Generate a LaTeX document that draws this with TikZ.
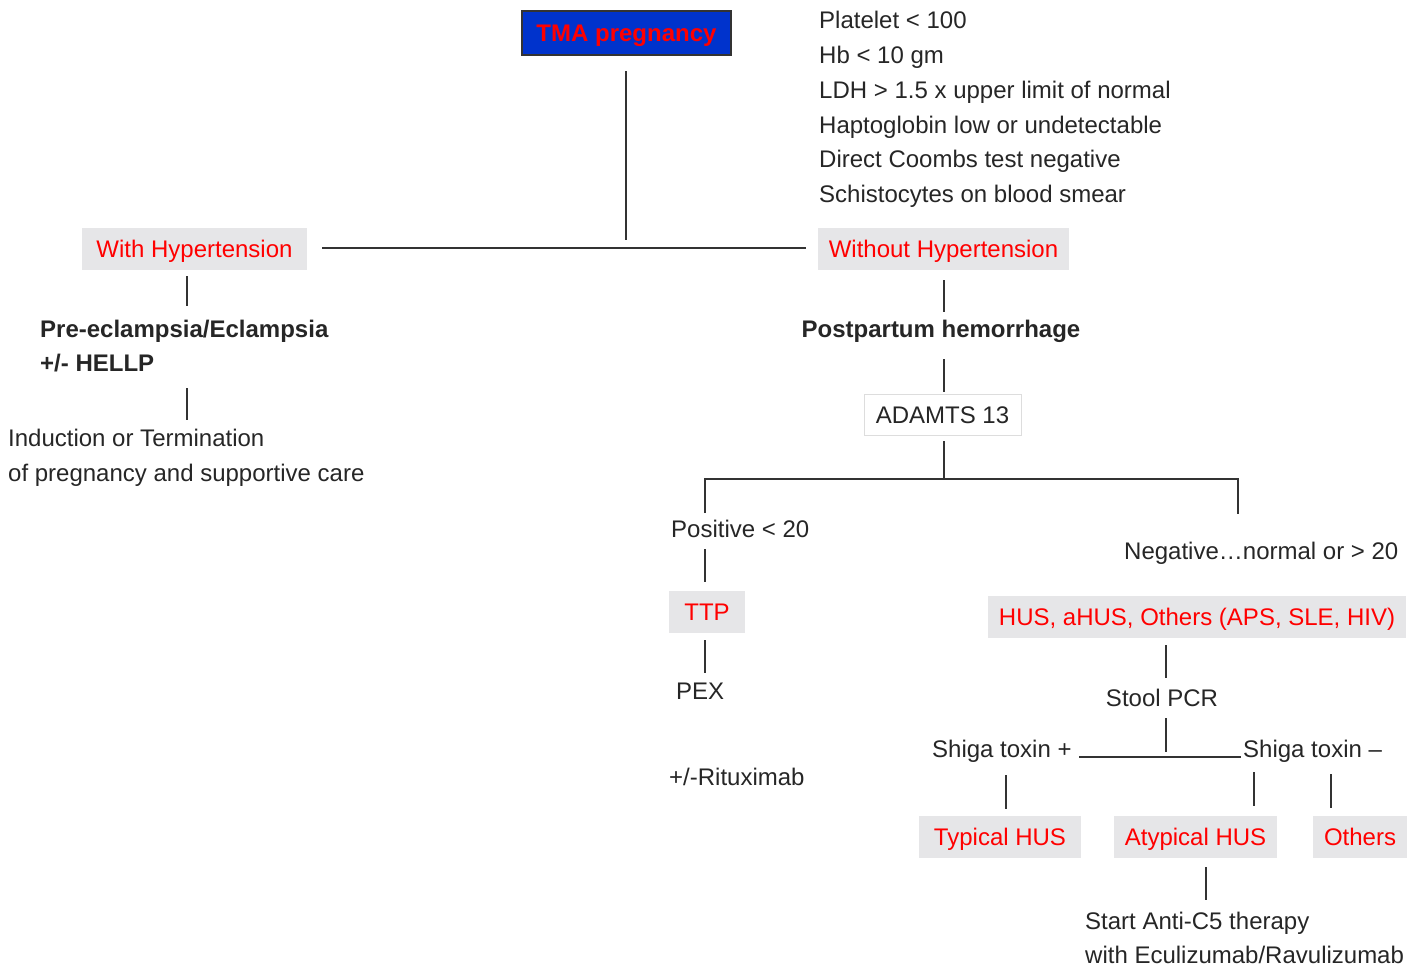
\documentclass[tikz,border=0pt]{standalone}
\usepackage{fontspec}
\setmainfont{Liberation Sans}
\definecolor{txt}{HTML}{262626}
\definecolor{boxgray}{HTML}{E6E6E8}
\definecolor{tmablue}{HTML}{0033CC}
\definecolor{linec}{HTML}{333333}
\definecolor{thinborder}{HTML}{DDDDDD}
\begin{document}
\begin{tikzpicture}[x=1pt,y=-1pt,
 every node/.style={font=\fontsize{24}{34.7}\selectfont, text=txt, inner sep=0pt},
 one/.style={text height=17.2pt, text depth=0pt},
 boldtxt/.style={font=\fontsize{24}{34.7}\selectfont\bfseries},
 redbox/.style={one, fill=boxgray, text=red, minimum height=42, anchor=center},
 plain/.style={anchor=west, align=left},
 conn/.style={draw=linec, line width=1.3pt}]
\useasboundingbox (0,0) rectangle (1415,966);

% nodes
\node[one, fill=tmablue, draw=linec, line width=1.5pt, text=red, boldtxt,
      minimum width=209, minimum height=44] (tma) at (626.5,33) {TMA pregnancy};
\node[plain] (crit) at (819,109.5) {Platelet < 100\\Hb < 10 gm\\LDH > 1.5 x upper limit of normal\\Haptoglobin low or undetectable\\Direct Coombs test negative\\Schistocytes on blood smear};
\node[redbox, minimum width=225] (withH) at (194.5,249) {With Hypertension};
\node[redbox, minimum width=251] (withoutH) at (943.5,249) {Without Hypertension};
\node[plain, boldtxt] (pre) at (40,346) {Pre-eclampsia/Eclampsia\\+/- HELLP};
\node[plain] (ind) at (8,458) {Induction or Termination\\of pregnancy and supportive care};
\node[one, boldtxt] (pph) at (941,329) {Postpartum hemorrhage};
\node[one, fill=white, draw=thinborder, line width=1pt, minimum width=157, minimum height=41] (adamts) at (942.5,414.5) {ADAMTS 13};
\node[one, plain] (pos) at (671,529) {Positive < 20};
\node[redbox, minimum width=76] (ttp) at (707,612) {TTP};
\node[one, plain] (pex) at (676,691) {PEX};
\node[one, plain] (rit) at (669,777) {+/-Rituximab};
\node[one, plain] (neg) at (1124,551) {Negative…normal or > 20};
\node[redbox, minimum width=418] (hus) at (1197,617) {HUS, aHUS, Others (APS, SLE, HIV)};
\node[one] (stool) at (1162,698) {Stool PCR};
\node[one, plain] (shp) at (932,749) {Shiga toxin +};
\node[one, plain] (shm) at (1243,749) {Shiga toxin –};
\node[redbox, minimum width=162] (typ) at (1000,837) {Typical HUS};
\node[redbox, minimum width=163] (atyp) at (1195.5,837) {Atypical HUS};
\node[redbox, minimum width=94] (oth) at (1360,837) {Others};
\node[plain] (start) at (1085,938) {Start Anti-C5 therapy\\with Eculizumab/Ravulizumab};

% connector end points
\coordinate (t1) at (626,71);   \coordinate (t2) at (626,240);
\coordinate (h1) at (322,248);  \coordinate (h2) at (806,248);
\coordinate (w1) at (187,276);  \coordinate (w2) at (187,306);
\coordinate (p1) at (187,388);  \coordinate (p2) at (187,420);
\coordinate (o1) at (944,280);  \coordinate (o2) at (944,312);
\coordinate (q1) at (944,359);  \coordinate (q2) at (944,392);
\coordinate (a1) at (944,441);  \coordinate (a2) at (944,479);
\coordinate (bl) at (705,479);  \coordinate (br) at (1238,479);
\coordinate (bl2) at (705,513); \coordinate (br2) at (1238,514);
\coordinate (s1) at (705,549);  \coordinate (s2) at (705,582);
\coordinate (u1) at (705,640);  \coordinate (u2) at (705,673);
\coordinate (v1) at (1166,645); \coordinate (v2) at (1166,678);
\coordinate (x1) at (1166,718); \coordinate (x2) at (1166,752);
\coordinate (g1) at (1079,757); \coordinate (g2) at (1241,757);
\coordinate (k1) at (1006,775); \coordinate (k2) at (1006,809);
\coordinate (m1) at (1254,772); \coordinate (m2) at (1254,806);
\coordinate (n1) at (1331,774); \coordinate (n2) at (1331,808);
\coordinate (z1) at (1206,867); \coordinate (z2) at (1206,900);

\draw[conn] (t1) -- (t2);
\draw[conn] (h1) -- (h2);
\draw[conn] (w1) -- (w2);
\draw[conn] (p1) -- (p2);
\draw[conn] (o1) -- (o2);
\draw[conn] (q1) -- (q2);
\draw[conn] (a1) -- (a2);
\draw[conn] (bl2) -- (bl) -- (br) -- (br2);
\draw[conn] (s1) -- (s2);
\draw[conn] (u1) -- (u2);
\draw[conn] (v1) -- (v2);
\draw[conn] (x1) -- (x2);
\draw[conn] (g1) -- (g2);
\draw[conn] (k1) -- (k2);
\draw[conn] (m1) -- (m2);
\draw[conn] (n1) -- (n2);
\draw[conn] (z1) -- (z2);
\end{tikzpicture}
\end{document}
